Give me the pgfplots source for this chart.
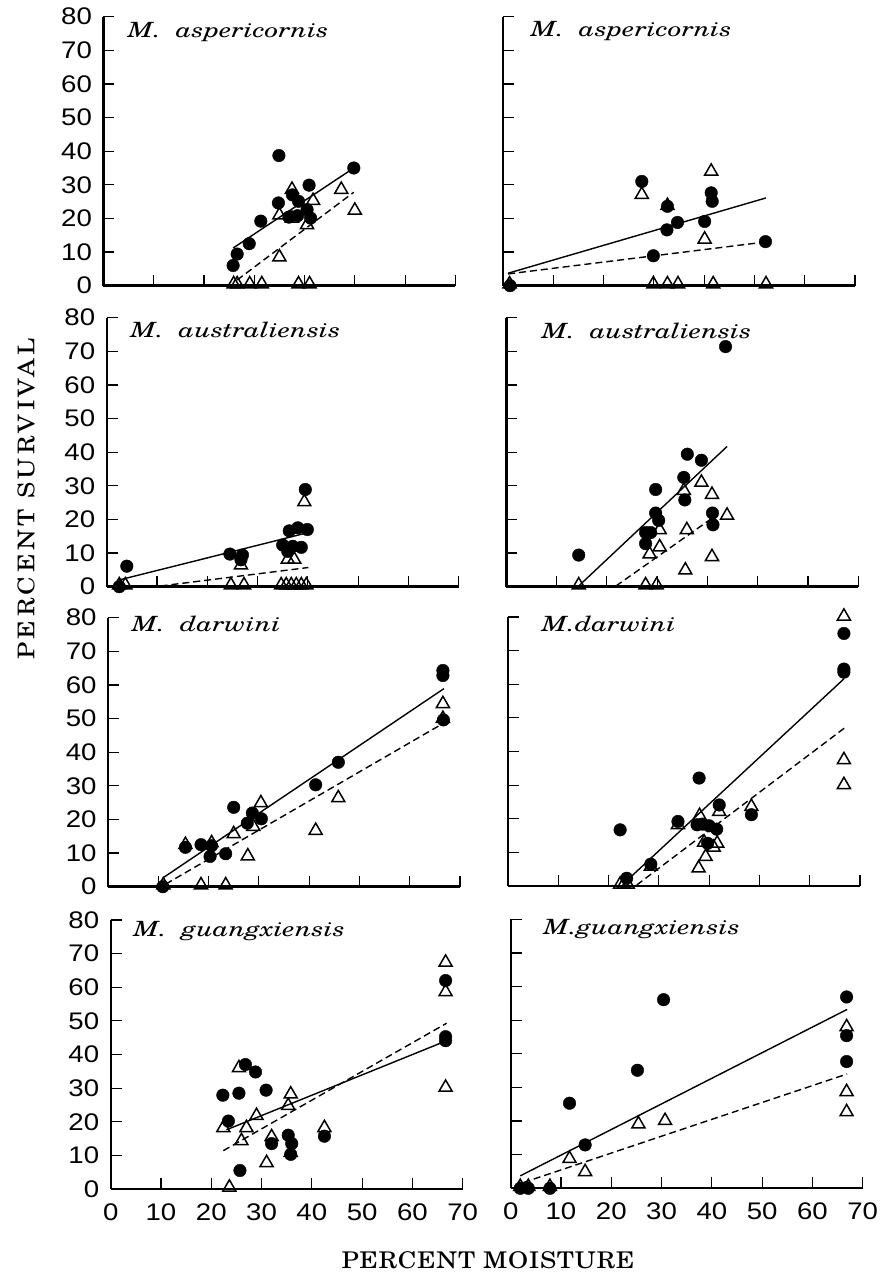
\documentclass[border=0pt]{standalone}
\usepackage{pgfplots}
\pgfplotsset{compat=1.18}
\usepackage{fontspec}
\newfontfamily\tickfont{Liberation Sans}[FakeStretch=1.15]
\newfontfamily\titlefont{texgyreschola-italic.otf}[FakeStretch=1.3]
\newfontfamily\labfont{texgyreschola-regular.otf}[FakeStretch=1.12,LetterSpace=3]
\newfontfamily\ylabfont{texgyreschola-regular.otf}[FakeStretch=1.12,LetterSpace=15]

\pgfplotsset{
  panel/.style={
    scale only axis, width=352pt, height=269pt,
    xmin=0, xmax=70, ymin=0, ymax=80,
    axis x line=bottom, axis y line=left,
    axis line style={line width=2.4pt,-},
    xtick={0,10,...,70}, ytick={0,10,...,80},
    xticklabels={}, yticklabels={},
    tick align=inside, major tick length=11pt,
    every tick/.style={black, line width=1.2pt},
    ticklabel style={font=\fontsize{24}{24}\tickfont},
    yticklabel style={xshift=-8pt},
    xticklabel style={yshift=-11pt},
    clip=false, anchor=south west,
  },
  ylab/.style={yticklabels={0,10,20,30,40,50,60,70,80}},
  xlab/.style={xticklabels={0,10,20,30,40,50,60,70}},
  circ/.style={only marks, mark=*, mark size=6.3pt, black},
  tri/.style={only marks, mark=triangle, mark size=7.5pt, black, mark options={line width=1.5pt}},
  fit/.style={black, line width=1.4pt},
  fitd/.style={black, line width=1.4pt, dash pattern=on 7pt off 4pt},
}
\tikzset{ttl/.style={anchor=base west, font=\fontsize{21}{21}\titlefont}}

\begin{document}
\begin{tikzpicture}[x=1pt,y=1pt]
\useasboundingbox (0,0) rectangle (883,1279);

% row 1 left
\begin{axis}[panel, ylab, at={(103.4pt,993.3pt)}]
\addplot[fitd] coordinates {(26.6,1.7) (49.8,27.8)};
\addplot[fit] coordinates {(25.8,11.2) (49.8,35.0)};
\addplot[circ] coordinates {(25.8,6.0) (26.6,9.4) (29.0,12.5) (31.3,19.2) (34.9,38.7) (34.8,24.6) (36.9,20.4) (38.6,20.8) (37.6,27.0) (38.8,25.1) (40.9,29.9) (40.5,22.6) (41.2,20.1) (49.8,35.0)};
\addplot[tri] coordinates {(25.9,0.5) (26.6,0.5) (29.1,0.5) (31.5,0.5) (35.0,8.5) (37.5,28.6) (37.5,20.0) (35.0,21.0) (41.7,25.3) (40.5,18.1) (38.8,0.5) (41.0,0.5) (47.3,28.6) (50.0,22.4)};
\node[ttl] at (axis cs:4.1,73.8) {M.\ \ aspericornis};
\end{axis}

% row 1 right
\begin{axis}[panel, at={(503pt,993.3pt)}]
\addplot[fitd] coordinates {(1.0,3.5) (52.2,13.0)};
\addplot[fit] coordinates {(1.0,3.7) (52.3,26.1)};
\addplot[circ] coordinates {(1.4,0) (27.6,31.0) (32.7,23.6) (32.6,16.6) (34.7,18.8) (40.1,19.1) (41.4,27.6) (41.6,25.1) (29.9,8.9) (52.2,13.1)};
\addplot[tri] coordinates {(1.3,0.5) (27.6,27.1) (32.7,23.8) (41.4,34.0) (40.1,13.8) (29.9,0.5) (32.7,0.5) (34.8,0.5) (41.8,0.5) (52.3,0.5)};
\node[ttl] at (axis cs:4.8,74.1) {M.\ \ aspericornis};
\end{axis}

% row 2 left
\begin{axis}[panel, ylab, at={(106.7pt,692.3pt)}]
\addplot[fitd] coordinates {(10.7,0.2) (40.1,5.7)};
\addplot[fit] coordinates {(2.5,2.0) (39.3,15.8)};
\addplot[circ] coordinates {(4.0,6.1) (2.5,0) (24.5,9.7) (27.0,9.4) (26.7,8.0) (35.0,12.4) (36.0,10.5) (37.0,12.0) (38.7,11.7) (36.3,16.6) (38.0,17.5) (39.9,17.0) (39.5,28.9)};
\addplot[tri] coordinates {(3.7,0.5) (2.5,0.5) (24.7,0.5) (27.3,0.5) (26.7,6.4) (36.0,8.1) (37.3,8.1) (39.3,25.2) (34.7,0.5) (35.7,0.5) (36.7,0.5) (37.7,0.5) (38.7,0.5) (39.7,0.5)};
\node[ttl] at (axis cs:4.0,74.0) {M.\ \ australiensis};
\end{axis}

% row 2 right
\begin{axis}[panel, at={(506.3pt,692.3pt)}]
\addplot[fitd] coordinates {(21.8,0.2) (41.9,21.4)};
\addplot[fit] coordinates {(14.6,0.5) (43.9,41.7)};
\addplot[circ] coordinates {(14.4,9.4) (43.6,71.4) (36.0,39.4) (38.8,37.6) (35.3,32.5) (35.5,25.8) (29.7,28.9) (29.7,21.9) (30.3,19.7) (27.7,16.1) (28.7,16.1) (27.7,12.8) (41.0,21.9) (41.1,18.4)};
\addplot[tri] coordinates {(14.4,0.5) (27.7,0.5) (29.9,0.5) (28.5,9.7) (30.5,11.8) (30.5,16.9) (35.3,28.6) (35.9,16.9) (35.6,4.9) (38.8,31.0) (40.9,27.4) (43.9,21.2) (40.9,8.9)};
\node[ttl] at (axis cs:6.3,73.7) {M.\ \ australiensis};
\end{axis}

% row 3 left
\begin{axis}[panel, ylab, at={(108pt,392.3pt)}]
\addplot[fitd] coordinates {(11.5,0.8) (66.8,48.7)};
\addplot[fit] coordinates {(11.1,2.8) (66.8,58.9)};
\addplot[circ] coordinates {(10.9,0) (15.4,11.7) (18.5,12.5) (20.6,12.2) (20.3,9.0) (23.4,9.8) (25.0,23.6) (27.7,18.9) (28.7,21.9) (30.5,20.2) (41.3,30.3) (45.8,37.0) (66.6,64.3) (66.6,62.8) (66.7,49.6)};
\addplot[tri] coordinates {(11.0,0.5) (15.4,12.5) (18.5,0.5) (23.4,0.5) (20.6,13.0) (25.0,15.7) (27.8,9.1) (28.9,17.9) (30.4,24.9) (41.3,16.7) (45.8,26.4) (66.6,54.4) (66.6,50.0)};
\node[ttl] at (axis cs:4.0,75.8) {M.\ \ darwini};
\end{axis}

% row 3 right
\begin{axis}[panel, at={(508pt,393pt)}]
\addplot[fitd] coordinates {(25.6,0.3) (67.2,47.3)};
\addplot[fit] coordinates {(22.9,0.6) (66.8,61.6)};
\addplot[circ] coordinates {(22.3,16.7) (23.6,2.3) (28.4,6.5) (33.8,19.2) (38.0,32.1) (37.6,18.2) (38.7,18.4) (40.0,17.9) (41.5,16.9) (42.0,24.1) (39.7,12.7) (48.4,21.2) (66.8,75.1) (66.8,64.5) (66.8,63.6)};
\addplot[tri] coordinates {(22.3,0.5) (23.0,0.5) (23.8,0.5) (28.4,5.8) (33.8,18.2) (38.1,20.9) (42.0,22.1) (48.4,23.6) (66.8,80.2) (66.8,37.5) (66.8,30.1) (37.9,5.3) (39.3,8.7) (40.9,11.5) (41.6,12.7) (39.0,13.0)};
\node[ttl] at (axis cs:6.0,75.8) {M.darwini};
\end{axis}

% row 4 left
\begin{axis}[panel, ylab, xlab, at={(110.7pt,90pt)}]
\addplot[fitd] coordinates {(22.4,11.4) (66.8,49.3)};
\addplot[fit] coordinates {(23.0,17.6) (66.8,44.1)};
\addplot[circ] coordinates {(22.3,27.9) (25.5,28.5) (26.8,37.0) (28.8,34.8) (30.9,29.4) (23.4,20.2) (25.7,5.5) (32.0,13.5) (35.3,16.0) (36.0,13.5) (35.8,10.3) (42.5,15.7) (66.6,62.0) (66.6,45.3) (66.6,44.1)};
\addplot[tri] coordinates {(25.5,36.0) (22.4,18.2) (26.0,14.3) (27.0,18.2) (29.0,21.8) (32.0,15.5) (31.0,7.8) (35.8,28.2) (35.3,24.8) (35.8,10.8) (42.5,18.2) (23.6,0.5) (66.6,67.4) (66.6,58.6) (66.6,30.2)};
\node[ttl] at (axis cs:3.8,75.1) {M.\ \ guangxiensis};
\end{axis}

% row 4 right
\begin{axis}[panel, xlab, at={(510.7pt,90.7pt)}]
\addplot[fitd] coordinates {(2.5,1.7) (66.9,34.0)};
\addplot[fit] coordinates {(1.9,3.7) (66.9,53.2)};
\addplot[circ] coordinates {(11.7,25.3) (14.8,12.9) (25.2,35.1) (30.4,56.1) (66.8,56.9) (66.8,45.4) (66.8,37.7) (1.9,0) (3.5,0) (7.8,0)};
\addplot[tri] coordinates {(1.9,0.5) (3.5,0.5) (7.8,0.5) (11.7,8.8) (14.8,4.9) (25.4,19.1) (30.7,20.1) (66.8,48.0) (66.8,28.7) (66.8,22.7)};
\node[ttl] at (axis cs:5.8,75.5) {M.guangxiensis};
\end{axis}

\node[rotate=90, font=\fontsize{23}{23}\ylabfont] at (26,780) {PERCENT SURVIVAL};
\node[font=\fontsize{23}{23}\labfont] at (488,19) {PERCENT MOISTURE};
\end{tikzpicture}
\end{document}
